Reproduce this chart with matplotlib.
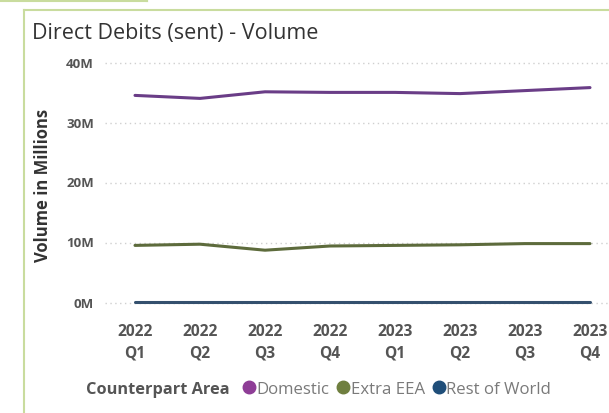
"""
Direct Debits (sent) - Volume, line chart by counterpart area.
"""

import matplotlib.pyplot as plt
from matplotlib.lines import Line2D

# data (millions)
quarters = ["2022\nQ1", "2022\nQ2", "2022\nQ3", "2022\nQ4",
            "2023\nQ1", "2023\nQ2", "2023\nQ3", "2023\nQ4"]
domestic = [34.6, 34.1, 35.2, 35.1, 35.1, 34.9, 35.4, 35.9]
extra_eea = [9.6, 9.8, 8.8, 9.5, 9.6, 9.7, 9.9, 9.9]
rest_of_world = [0.1, 0.1, 0.1, 0.1, 0.1, 0.1, 0.1, 0.1]
y_ticks = [0, 10, 20, 30, 40]
series_names = ["Domestic", "Extra EEA", "Rest of World"]

line_colors = ["#6a3d87", "#5d6b3c", "#34506e"]
dot_colors = ["#8e3d96", "#6f7f3f", "#1f4e79"]

W, H = 609, 414
FONT = "Open Sans"


def fx(px):
    return px / W


def fy(py):
    return 1 - py / H


fig = plt.figure(figsize=(W / 100, H / 100), dpi=100)
fig.patch.set_facecolor("white")

# axes spanning the plot area (pixel box)
left, right, top, bottom = 105, 609, 55, 312
ax = fig.add_axes([fx(left), fy(bottom), fx(right - left), (bottom - top) / H])

x = list(range(len(quarters)))
x0, x7 = 135, 590
px_per_unit = (x7 - x0) / 7
ax.set_xlim(-(x0 - left) / px_per_unit, 7 + (right - x7) / px_per_unit)
y40, y0 = 64, 304
px_per_m = (y0 - y40) / 40
ax.set_ylim(-(bottom - y0) / px_per_m, 40 + (y40 - top) / px_per_m)

for y in y_ticks:
    ax.axhline(y, color="#cfcfcf", lw=1.0, ls=(0, (1, 2.5)), zorder=0)

for vals, c in zip([domestic, extra_eea, rest_of_world], line_colors):
    ax.plot(x, vals, color=c, lw=2.2, solid_capstyle="round", zorder=3)

for s in ax.spines.values():
    s.set_visible(False)
ax.tick_params(length=0)
ax.set_xticks([])
ax.set_yticks([])

# y tick labels
for y in y_ticks:
    fig.text(fx(94), fy(y0 - y * px_per_m), f"{y}M", ha="right", va="center",
             fontsize=9.5, fontweight="bold", color="#555555", family=FONT)

# x tick labels
for i, q in enumerate(quarters):
    fig.text(fx(x0 + i * px_per_unit), fy(343), q, ha="center", va="center",
             fontsize=11.2, fontweight="bold", color="#555555", family=FONT,
             linespacing=1.5)

# y axis title
fig.text(fx(43), fy(185), "Volume in Millions", rotation=90, ha="center",
         va="center", fontsize=12, fontweight="bold", color="#333333",
         family=FONT)

# chart title
fig.text(fx(32), fy(34), "Direct Debits (sent) - Volume", ha="left",
         va="center", fontsize=15.5, color="#333333", family=FONT)

# legend
fig.text(fx(86), fy(390), "Counterpart Area", ha="left", va="center",
         fontsize=11.8, fontweight="bold", color="#555555", family=FONT)
handles = [Line2D([], [], ls="", marker="o", ms=9, color=c) for c in dot_colors]
leg = fig.legend(handles, series_names, loc="center left",
                 bbox_to_anchor=(fx(242), fy(390)), ncol=3, frameon=False,
                 handlelength=0.8, handletextpad=0.05, columnspacing=0.42,
                 borderpad=0, borderaxespad=0,
                 prop={"family": FONT, "size": 12.1})
for t in leg.get_texts():
    t.set_color("#7a7a7a")

# panel borders
border = "#c9dc9e"
fig.add_artist(Line2D([0, fx(147)], [fy(2), fy(2)], color=border, lw=1.5))
fig.add_artist(Line2D([fx(147), fx(147)], [fy(0), fy(2)], color=border, lw=1.5))
fig.add_artist(Line2D([fx(24), 1], [fy(11), fy(11)], color=border, lw=1.5))
fig.add_artist(Line2D([fx(24), fx(24)], [fy(11), 0], color=border, lw=1.5))

fig.savefig("out.png", dpi=100, facecolor="white")
